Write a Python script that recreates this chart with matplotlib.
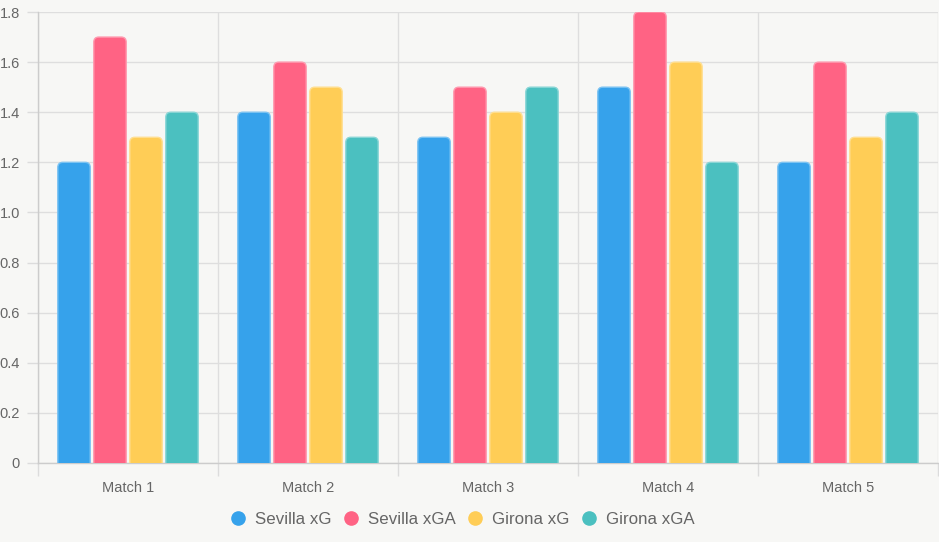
import matplotlib.pyplot as plt
from matplotlib.patches import FancyBboxPatch
from matplotlib.lines import Line2D
import matplotlib.colors as mcolors
import numpy as np

# Datos
partidos = ["Match 1", "Match 2", "Match 3", "Match 4", "Match 5"]
sevilla_xg = [1.2, 1.4, 1.3, 1.5, 1.2]
sevilla_xga = [1.7, 1.6, 1.5, 1.8, 1.6]
girona_xg = [1.3, 1.5, 1.4, 1.6, 1.3]
girona_xga = [1.4, 1.3, 1.5, 1.2, 1.4]

series = [
    ("Sevilla xG", sevilla_xg, "#36A2EB"),
    ("Sevilla xGA", sevilla_xga, "#FF6384"),
    ("Girona xG", girona_xg, "#FFCD56"),
    ("Girona xGA", girona_xga, "#4BC0C0"),
]

plt.rcParams['font.family'] = ['Liberation Sans', 'DejaVu Sans']

W, H = 939, 542
fondo = "#f7f7f5"
fig = plt.figure(figsize=(W / 100, H / 100), dpi=100, facecolor=fondo)
ax = fig.add_axes([38 / W, (H - 463) / H, 900 / W, 451 / H])
ax.set_facecolor(fondo)

x = np.arange(len(partidos))
n = len(series)
ancho_grupo = 0.8
ancho_barra = ancho_grupo / n * 0.9


def aclarar(color, f=0.35):
    r, g, b = mcolors.to_rgb(color)
    return (r + (1 - r) * f, g + (1 - g) * f, b + (1 - b) * f)


for i, (nombre, valores, color) in enumerate(series):
    desplaz = (i - (n - 1) / 2) * ancho_grupo / n
    barras = ax.bar(x + desplaz, valores, width=ancho_barra, color=color)
    # reemplazamos cada barra por una con esquinas superiores redondeadas
    for rect in barras:
        bx, bw, bh = rect.get_x(), rect.get_width(), rect.get_height()
        caja = FancyBboxPatch((bx, -0.1), bw, bh + 0.1,
                              boxstyle="round,pad=0,rounding_size=0.028",
                              mutation_aspect=0.72,
                              facecolor=color, edgecolor=aclarar(color),
                              linewidth=1.0, zorder=3)
        ax.add_patch(caja)
        rect.remove()

# Ejes
ax.set_xlim(-0.5, len(partidos) - 0.5)
ax.set_ylim(0, 1.8)
ax.set_yticks(np.arange(0, 1.81, 0.2))
ax.set_yticklabels(["0"] + [f"{v:.1f}" for v in np.arange(0.2, 1.81, 0.2)])
ax.set_xticks(x)
ax.set_xticklabels(partidos)
ax.set_xticks(np.arange(-0.5, len(partidos), 1), minor=True)

ax.tick_params(axis="y", length=8, width=1, color="#dcdcdc", labelsize=10.5,
               labelcolor="#666666", pad=5)
ax.tick_params(axis="x", which="major", length=0, labelsize=10.5,
               labelcolor="#666666", pad=13)
ax.tick_params(axis="x", which="minor", length=9, width=1, color="#dcdcdc")

ax.grid(axis="y", color="#dedede", linewidth=1, zorder=0)
ax.grid(axis="x", which="minor", color="#dedede", linewidth=1, zorder=0)
ax.set_axisbelow(True)

for lado in ["top", "right"]:
    ax.spines[lado].set_visible(False)
for lado in ["left", "bottom"]:
    ax.spines[lado].set_color("#cccccc")
    ax.spines[lado].set_linewidth(1)

# Leyenda
manejadores = [Line2D([], [], marker="o", linestyle="", markersize=9.5,
                      markerfacecolor=c, markeredgecolor=c, label=nm)
               for nm, _, c in series]
fig.legend(handles=manejadores, loc="center", ncol=4,
           bbox_to_anchor=(462 / W, 1 - 519 / H), frameon=False,
           fontsize=12.2, labelcolor="#666666", handlelength=1.0,
           handletextpad=0.5, columnspacing=0.65, borderaxespad=0)

fig.savefig("out.png", dpi=100, facecolor=fondo)
